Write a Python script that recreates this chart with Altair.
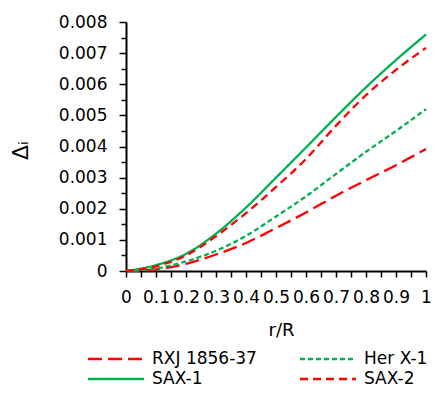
import altair as alt
import pandas as pd

r = [0.0, 0.1, 0.2, 0.3, 0.4, 0.5, 0.6, 0.7, 0.8, 0.9, 1.0]
rxj = [0.0, 0.00005, 0.00023, 0.00053, 0.00090, 0.00138, 0.00188, 0.00242, 0.00292, 0.00340, 0.00392]
herx1 = [0.0, 0.00008, 0.00031, 0.00065, 0.00113, 0.00175, 0.00240, 0.00312, 0.00383, 0.00450, 0.00520]
sax1 = [0.0, 0.00019, 0.00055, 0.00120, 0.00204, 0.00300, 0.00397, 0.00495, 0.00590, 0.00678, 0.00760]
sax2 = [0.0, 0.00015, 0.00050, 0.00112, 0.00186, 0.00270, 0.00360, 0.00467, 0.00565, 0.00646, 0.00717]

names = ["RXJ 1856-37", "Her X-1", "SAX-1", "SAX-2"]
colors = ["#FF0000", "#00B050", "#00B050", "#FF0000"]
dashes = [[14, 6], [5, 3], [1, 0], [8, 5]]

x_ticks = [0.0, 0.05, 0.1, 0.15, 0.2, 0.25, 0.3, 0.35, 0.4, 0.45, 0.5,
           0.55, 0.6, 0.65, 0.7, 0.75, 0.8, 0.85, 0.9, 0.95, 1.0]
y_ticks = [0.0, 0.0005, 0.001, 0.0015, 0.002, 0.0025, 0.003, 0.0035, 0.004,
           0.0045, 0.005, 0.0055, 0.006, 0.0065, 0.007, 0.0075, 0.008]

rows = []
for name, vals in zip(names, [rxj, herx1, sax1, sax2]):
    for rv, v in zip(r, vals):
        rows.append({"r": rv, "d": v, "series": name})
df = pd.DataFrame(rows)

FONT = "DejaVu Sans"
major_y = "abs(datum.value*1000 - round(datum.value*1000)) < 1e-6"
major_x = "abs(datum.value*10 - round(datum.value*10)) < 1e-6"

chart = alt.Chart(df).mark_line(strokeWidth=2.3, interpolate="monotone").encode(
    x=alt.X("r:Q", scale=alt.Scale(domain=[0, 1], nice=False),
            axis=alt.Axis(values=x_ticks, title="r/R", grid=False,
                          labelExpr=f"{major_x} ? format(datum.value, '~g') : ''",
                          labelFlush=False, labelOverlap=False,
                          tickSize=6, labelPadding=12,
                          titleX=155, titleY=59, titleBaseline="middle")),
    y=alt.Y("d:Q", scale=alt.Scale(domain=[0, 0.008], nice=False),
            axis=alt.Axis(values=y_ticks, title="Δᵢ", grid=False,
                          labelExpr=f"{major_y} ? format(datum.value, '~g') : ''",
                          labelOverlap=False, labelPadding=12,
                          tickSize={"condition": {"test": major_y, "value": 7}, "value": 5},
                          titleAngle=-90, titleX=-106, titleY=128,
                          titleAlign="center", titleBaseline="middle",
                          titleFontSize=22)),
    color=alt.Color("series:N", scale=alt.Scale(domain=names, range=colors),
                    sort=names, legend=alt.Legend(title=None)),
    strokeDash=alt.StrokeDash("series:N", scale=alt.Scale(domain=names, range=dashes),
                              sort=names, legend=alt.Legend(title=None)),
).properties(
    width=300, height=249,
    autosize=alt.AutoSizeParams(type="none"),
    padding={"left": 118, "top": 14, "right": 6, "bottom": 117},
).configure_view(stroke=None).configure_axis(
    domainColor="black", tickColor="black", domainWidth=2, tickWidth=1.5,
    labelFont=FONT, labelFontSize=17, labelColor="black",
    titleFont=FONT, titleFontSize=18, titleFontWeight="normal", titleColor="black",
).configure_legend(
    orient="none", legendX=-22, legendY=325, columns=2, direction="horizontal",
    symbolType="M-2.667,0H2.667", symbolSize=441, symbolStrokeWidth=2.3,
    labelFont=FONT, labelFontSize=17, labelColor="black",
    columnPadding=38, rowPadding=0, labelOffset=24, labelLimit=200,
)

chart.save("out.html", embed_options={"renderer": "svg", "actions": False})
